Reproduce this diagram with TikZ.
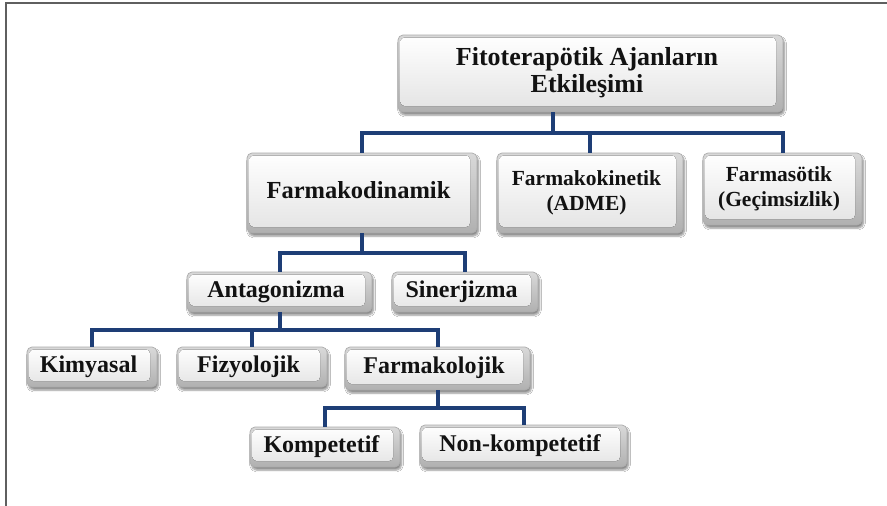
\documentclass[tikz,border=0pt]{standalone}
\usepackage{fontspec}
\setmainfont{Liberation Serif}
\usetikzlibrary{shadows.blur}
\definecolor{bus}{RGB}{30,62,118}
\definecolor{frameline}{RGB}{95,95,95}
\definecolor{ink}{RGB}{18,18,18}
% centred text block with a little extra room on the right (bevelled edge)
\newcommand\btext[1]{\begin{tabular}{@{}c@{\hspace{7pt}}}#1\end{tabular}}
\begin{document}
\begin{tikzpicture}[x=1pt,y=-1pt,
  box/.style={draw=gray!65, line width=0.7pt, rounded corners=5pt,
    top color=gray!30, bottom color=gray!62,
    blur shadow={shadow xshift=1.5pt, shadow yshift=-3pt,
                 shadow blur steps=6, shadow opacity=45},
    path picture={\fill[rounded corners=4pt, top color=white, bottom color=gray!22]
      ([shift={(2.5pt,-2.5pt)}]path picture bounding box.north west) rectangle
      ([shift={(-7pt,6pt)}]path picture bounding box.south east);},
    inner sep=0pt, text=ink},
  big/.style={font=\bfseries\fontsize{24.5}{26}\selectfont},
  mid/.style={font=\bfseries\fontsize{21.5}{25}\selectfont},
  std/.style={font=\bfseries\fontsize{24}{26}\selectfont},
  conn/.style={draw=bus, line width=4pt, line join=miter}]

\useasboundingbox (0,0) rectangle (887,506);
\fill[white] (0,0) rectangle (887,506);

% outer frame (top and left edges)
\draw[frameline, line width=1.5pt] (6,506) -- (6,3) -- (887,3);

% level 1
\node[box, minimum width=385pt, minimum height=77pt,
      font=\bfseries\fontsize{26}{27}\selectfont] (title) at (590.5,73.5)
      {\btext{Fitoterapötik Ajanların\\Etkileşimi}};

% level 2
\node[box, big, minimum width=230pt, minimum height=80pt] (fd) at (362,193)
      {\btext{Farmakodinamik}};
\node[box, mid, minimum width=186pt, minimum height=80pt] (fk) at (590,193)
      {\btext{Farmakokinetik\\(ADME)}};
\node[box, mid, minimum width=159pt, minimum height=72pt] (fs) at (782.5,189)
      {\btext{Farmasötik\\(Geçimsizlik)}};

% level 3
\node[box, std, minimum width=185pt, minimum height=40pt] (ant) at (279.5,292)
      {\btext{Antagonizma}};
\node[box, std, minimum width=146pt, minimum height=40pt] (sin) at (465,292)
      {\btext{Sinerjizma}};

% level 4
\node[box, std, minimum width=130pt, minimum height=40pt] (kim) at (92,367)
      {\btext{Kimyasal}};
\node[box, std, minimum width=150pt, minimum height=40pt] (fiz) at (252,367)
      {\btext{Fizyolojik}};
\node[box, std, minimum width=185pt, minimum height=43pt] (fl) at (437.5,368.5)
      {\btext{Farmakolojik}};

% level 5
\node[box, std, minimum width=150pt, minimum height=40pt] (komp) at (325,447)
      {\btext{Kompetetif}};
\node[box, std, minimum width=207pt, minimum height=42pt] (nonk) at (523.5,446)
      {\btext{Non-kompetetif}};

% connector buses
\coordinate (b1) at (553,133);
\coordinate (b2) at (362,253);
\coordinate (b3) at (279.5,330);
\coordinate (b4) at (437.5,408);

\draw[conn] (b1 |- title.south) -- (b1);
\draw[conn] (fd.north) |- (fs.north |- b1) -- (fs.north);
\draw[conn] (fk.north) -- (fk.north |- b1);

\draw[conn] (fd.south) -- (b2);
\draw[conn] (ant.north) |- (sin.north |- b2) -- (sin.north);

\draw[conn] (ant.south) -- (b3);
\draw[conn] (kim.north) |- (fl.north |- b3) -- (fl.north);
\draw[conn] (fiz.north) -- (fiz.north |- b3);

\draw[conn] (fl.south) -- (b4);
\draw[conn] (komp.north) |- (nonk.north |- b4) -- (nonk.north);
\end{tikzpicture}
\end{document}
